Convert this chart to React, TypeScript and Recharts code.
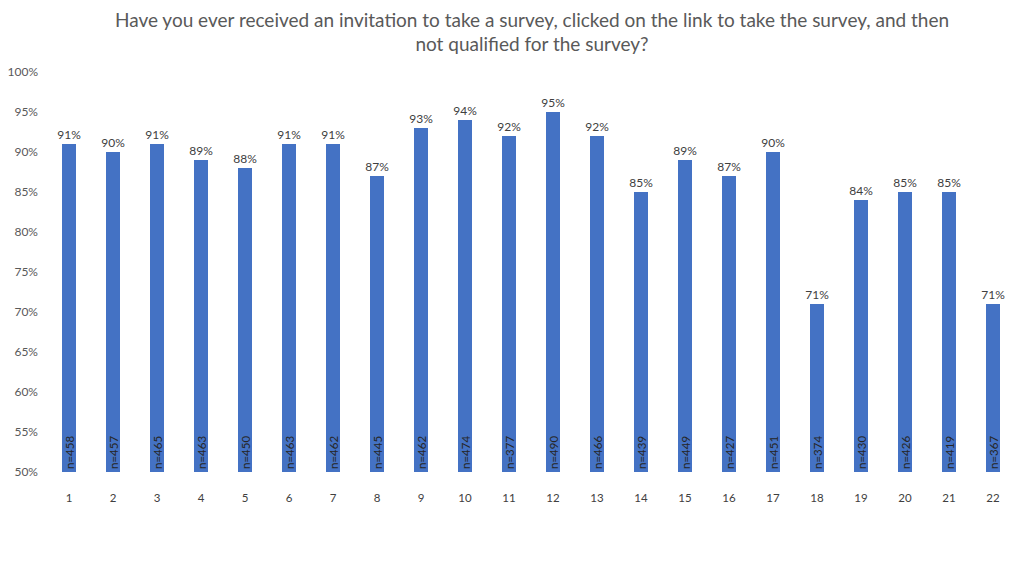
import { BarChart, Bar, XAxis, YAxis, LabelList } from "recharts";

const categories = ["1", "2", "3", "4", "5", "6", "7", "8", "9", "10", "11", "12", "13", "14", "15", "16", "17", "18", "19", "20", "21", "22"];
const percentValues = [91, 90, 91, 89, 88, 91, 91, 87, 93, 94, 92, 95, 92, 85, 89, 87, 90, 71, 84, 85, 85, 71];
const sampleSizes = [458, 457, 465, 463, 450, 463, 462, 445, 462, 474, 377, 490, 466, 439, 449, 427, 451, 374, 430, 426, 419, 367];
const yTicks = [50, 55, 60, 65, 70, 75, 80, 85, 90, 95, 100];

const data = categories.map((name, i) => ({
  name,
  pct: percentValues[i],
  n: sampleSizes[i],
}));

const font = "Lato, 'Open Sans', sans-serif";

const renderN = (props: any) => {
  const { x, y, width, height, index } = props;
  const cx = x + width / 2;
  const bottom = y + height - 3;
  return (
    <text
      x={cx}
      y={bottom}
      transform={`rotate(-90, ${cx}, ${bottom})`}
      textAnchor="start"
      dominantBaseline="central"
      fontSize={11.5}
      fill="#262626"
      fontFamily={font}
    >
      {`n=${sampleSizes[index]}`}
    </text>
  );
};

export default function App() {
  return (
    <div style={{ position: "absolute", left: 0, top: 0, width: 1024, height: 576, background: "#fff", fontFamily: font }}>
      <div
        style={{
          position: "absolute",
          top: 8,
          left: 60,
          width: 944,
          textAlign: "center",
          fontSize: 19,
          lineHeight: "24px",
          color: "#595959",
        }}
      >
        Have you ever received an invitation to take a survey, clicked on the link to take the survey, and then
        <br />
        not qualified for the survey?
      </div>
      <BarChart
        width={1024}
        height={576}
        data={data}
        margin={{ top: 72, right: 9, bottom: 74, left: 0 }}
        barSize={14}
      >
        <XAxis
          dataKey="name"
          axisLine={false}
          tickLine={false}
          tickMargin={16}
          height={30}
          interval={0}
          tick={{ fontSize: 11.5, fill: "#404040", fontFamily: font }}
        />
        <YAxis
          domain={[50, 100]}
          ticks={yTicks}
          allowDataOverflow
          width={47}
          axisLine={false}
          tickLine={false}
          tickMargin={3}
          tickFormatter={(v: number) => `${v}%`}
          tick={{ fontSize: 12, fill: "#595959", fontFamily: font }}
        />
        <Bar dataKey="pct" fill="#4472C4" isAnimationActive={false}>
          <LabelList
            dataKey="pct"
            position="top"
            offset={5}
            formatter={(v: any) => `${v}%`}
            style={{ fontSize: 12, fill: "#404040", fontFamily: font }}
          />
          <LabelList dataKey="n" content={renderN} />
        </Bar>
      </BarChart>
    </div>
  );
}
